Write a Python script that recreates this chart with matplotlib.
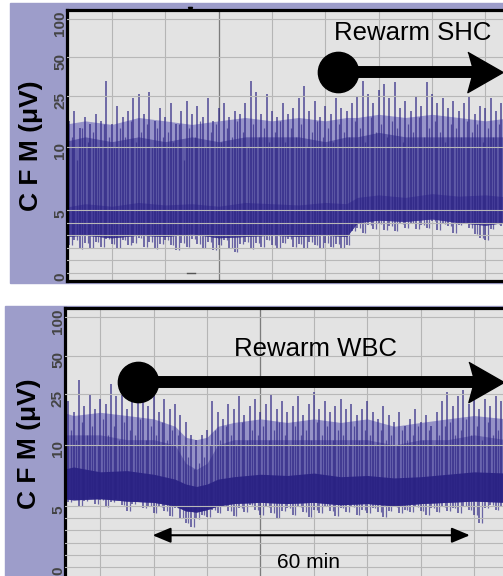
import numpy as np
import matplotlib
matplotlib.use("Agg")
import matplotlib.pyplot as plt
from matplotlib.patches import Rectangle
from matplotlib.transforms import ScaledTranslation, blended_transform_factory

plt.rcParams['font.family'] = ['Liberation Sans', 'DejaVu Sans']

# ---- upper panel: rewarm SHC, one peak / floor per minute (t = -8 .. 73 min)
shc_t = np.arange(-8, 74)
shc_peak = [16, 19, 14, 17, 15, 18, 16, 33,
            15, 21, 17, 19, 24, 26, 18, 27, 16, 20,
            17, 22, 15, 19, 23, 18, 21, 17, 24, 16,
            20, 22, 17, 19, 18, 22, 33, 27, 18, 26,
            19, 17, 22, 18, 20, 24, 30, 19, 23, 17,
            21, 18, 24, 20, 19, 22, 25, 33, 26, 22,
            28, 31, 24, 32, 20, 23, 19, 25, 21, 32,
            26, 22, 24, 20, 23, 19, 22, 25, 18, 21,
            20, 24, 19, 22]
# shorter strokes between the minute peaks
shc_sub = [12, 9, 14, 11, 13, 10, 15, 12,
           10, 14, 12, 16, 11, 13, 15, 10, 14, 12,
           13, 11, 15, 9, 14, 12, 16, 10, 13, 15,
           11, 14, 12, 16, 13, 10, 15, 12, 14, 11,
           13, 16, 11, 14, 12, 15, 10, 13, 16, 12,
           14, 11, 15, 13, 12, 16, 14, 11, 17, 13,
           15, 12, 16, 14, 11, 15, 13, 17, 12, 14,
           16, 13, 11, 15, 14, 12, 16, 13, 15, 11,
           14, 12, 15, 13]
shc_floor = [2.2, 2.6, 1.9, 2.4, 2.0, 2.5, 2.1, 2.7,
             2.3, 2.0, 2.6, 2.2, 2.4, 2.8, 2.1, 2.5, 1.9, 2.3,
             2.6, 2.2, 1.8, 2.4, 2.1, 2.7, 2.3, 2.0, 2.5, 1.8,
             2.2, 2.6, 2.0, 1.7, 2.3, 2.5, 1.9, 2.4, 2.1, 2.6,
             2.2, 2.0, 2.4, 2.7, 2.1, 2.3, 2.0, 2.5, 2.2, 2.0,
             2.4, 2.1, 2.3, 2.0, 2.2, 3.3, 3.6, 3.2, 3.8, 3.5,
             3.9, 3.4, 3.7, 3.3, 3.9, 3.6, 4.0, 3.5, 3.8, 3.6,
             4.1, 3.4, 3.9, 3.7, 3.2, 3.8, 4.0, 3.6, 3.1, 2.8,
             2.6, 3.5, 3.9, 3.7]
# band edges of the dense trace (coarse)
shc_band_t = [-9, -5, 0, 5, 10, 15, 20, 25, 30, 35, 40, 44, 46, 50, 55, 60, 65, 70, 75]
shc_haze = [15, 16, 15, 17, 16, 15, 16, 17, 16, 17, 16, 17, 17, 18, 17, 18, 17, 16, 17]
shc_mid = [11, 12, 11, 12, 11, 12, 11, 12, 12, 12, 11, 12, 12, 13, 12, 12, 12, 12, 12]
shc_core_hi = [5.2, 5.5, 5.3, 5.6, 5.4, 5.5, 5.3, 5.6, 5.5, 5.4, 5.6, 5.5, 6.0, 6.2, 6.0, 6.3, 6.1, 6.2, 6.0]
shc_core_lo = [2.9, 3.0, 2.8, 3.0, 2.9, 3.1, 2.8, 2.9, 3.0, 2.9, 3.0, 2.9, 4.0, 4.2, 4.1, 4.3, 4.0, 3.8, 4.1]

# ---- lower panel: rewarm WBC (t = -6 .. 75 min)
wbc_t = np.arange(-6, 76)
wbc_peak = [22, 18, 32, 20, 25, 19,
            23, 21, 30, 24, 27, 19, 26, 22, 24, 20,
            28, 18, 23, 19, 21, 17, 15, 12, 11, 12,
            13, 22, 18, 16, 21, 19, 24, 17, 20, 23,
            18, 21, 25, 19, 22, 18, 20, 24, 17, 21,
            26, 19, 22, 18, 20, 23, 19, 21, 17, 19,
            22, 18, 16, 20, 17, 15, 18, 14, 16, 19,
            15, 17, 14, 18, 22, 26, 20, 24, 27, 21,
            25, 19, 23, 20, 24, 22]
wbc_sub = [13, 11, 15, 12, 14, 10,
           16, 12, 14, 11, 15, 13, 12, 16, 11, 14,
           12, 15, 11, 13, 12, 10, 9, 8, 8.5, 9,
           10, 13, 11, 14, 12, 10, 15, 11, 13, 12,
           14, 11, 13, 15, 12, 10, 14, 12, 13, 11,
           15, 12, 14, 11, 13, 12, 10, 14, 11, 13,
           12, 10, 13, 11, 12, 10, 13, 11, 12, 14,
           11, 13, 10, 12, 14, 15, 12, 13, 16, 12,
           14, 11, 15, 12, 13, 14]
wbc_floor = [5.3, 5.6, 5.0, 5.4, 5.7, 5.2,
             5.5, 4.9, 5.3, 5.6, 5.1, 4.6, 5.2, 5.4, 4.8, 5.0,
             4.4, 4.9, 4.6, 4.2, 4.8, 4.0, 3.6, 3.3, 3.9, 4.3,
             4.1, 4.7, 4.4, 5.0, 4.6, 4.2, 4.8, 4.5, 5.1, 4.7,
             4.3, 4.9, 4.4, 4.0, 4.6, 4.8, 4.3, 4.9, 4.5, 4.1,
             4.7, 4.4, 5.0, 4.6, 4.2, 4.8, 4.5, 4.9, 4.3, 4.7,
             4.4, 4.8, 4.5, 4.1, 4.6, 4.9, 4.4, 4.7, 4.5, 4.9,
             4.6, 4.3, 4.8, 4.5, 4.9, 4.6, 4.8, 4.4, 5.0, 4.7,
             4.3, 3.6, 4.8, 5.1, 4.7, 5.0]
wbc_band_t = [-7, -5, 0, 5, 10, 14, 16, 18, 20, 22, 25, 30, 35, 40, 45, 50, 55, 60, 65, 70, 76]
wbc_haze = [18, 17, 18, 17, 16, 14, 11.5, 11, 11.5, 14, 15, 16, 15, 16, 15, 16, 14, 15, 16, 17, 16]
wbc_mid = [12, 12, 12, 11, 11, 10, 8.5, 8, 8.5, 10, 11, 11, 11, 11, 11, 11, 10, 11, 11, 12, 11]
wbc_core_hi = [8.0, 8.2, 7.8, 7.9, 7.6, 7.2, 6.8, 6.6, 6.8, 7.2, 7.4, 7.6, 7.5, 7.7, 7.4, 7.5, 7.3, 7.4, 7.6, 7.8, 7.7]
wbc_core_lo = [5.6, 5.5, 5.6, 5.4, 5.3, 5.0, 4.6, 4.5, 4.7, 5.0, 5.2, 5.3, 5.2, 5.3, 5.1, 5.2, 5.0, 5.2, 5.3, 5.4, 5.3]

y_ticks = [0, 5, 10, 25, 50, 100]
y_grid = [0, 1, 2, 3, 4, 5, 10, 25, 50, 100]
x_grid = [0, 10, 20, 30, 40, 50, 60, 70]

LAVENDER = "#9d9dca"
TRACE = "#2a2282"
W, H = 503, 576


def cfm_scale(lin):
    # linear 0-10, log 10-100
    def fwd(v):
        v = np.asarray(v, dtype=float)
        return np.where(v <= 10, v / 10 * lin, lin + np.log10(np.maximum(v, 1e-6) / 10))

    def inv(u):
        u = np.asarray(u, dtype=float)
        return np.where(u <= lin, u / lin * 10, 10 * 10 ** (u - lin))
    return fwd, inv


def px_box(left, top, right, bottom):
    return [left / W, 1 - bottom / H, (right - left) / W, (bottom - top) / H]


def draw_panel(ax, t, peak, sub, floor, band_t, haze, mid, core_hi, core_lo,
               lin, xlim, ylim, dark_x, colors):
    ax.set_yscale("function", functions=cfm_scale(lin))
    ax.set_xlim(*xlim)
    ax.set_ylim(*ylim)
    ax.set_facecolor("#e3e3e3")

    # vertical grid sits behind the trace
    for x in x_grid:
        ax.axvline(x, color="#b5b5b5", lw=0.8, zorder=0.5)
    ax.axvline(dark_x, color="#7c7c7c", lw=0.9, zorder=0.6)

    c_haze, c_mid, c_core = colors
    ax.fill_between(band_t, core_lo, haze, color=c_haze, lw=0, zorder=1)
    ax.fill_between(band_t, core_lo, mid, color=c_mid, lw=0, zorder=1.1)
    ax.fill_between(band_t, core_lo, core_hi, color=c_core, lw=0, zorder=1.2)

    ax.vlines(t, floor, peak, color=TRACE, lw=1.1, alpha=0.8, zorder=1.5)
    ax.vlines(t + 0.5, floor, sub, color=TRACE, lw=0.9, alpha=0.65, zorder=1.5)

    ax.set_yticks(y_grid)
    ax.set_yticklabels([])
    ax.set_xticks([])
    ax.tick_params(length=0)
    ax.set_axisbelow(False)
    ax.grid(True, axis="y", color="#b8b8b8", lw=0.8, zorder=2)

    for side in ["left", "top", "bottom"]:
        ax.spines[side].set_linewidth(2.3)
        ax.spines[side].set_color("black")
    ax.spines["right"].set_visible(False)

    tr = blended_transform_factory(ax.transAxes, ax.transData)
    off = ScaledTranslation(0, -4 / 100, ax.figure.dpi_scale_trans)
    for v in y_ticks:
        ax.text(-0.016, v, str(v), transform=tr + off, rotation=90,
                ha="center", va="center", fontsize=11, fontweight="bold",
                color="#444444")
    ax.text(-0.083, 0.5, "C F M (μV)", transform=ax.transAxes, rotation=90,
            ha="center", va="center", fontsize=19, fontweight="bold", color="black")


def rewarm_arrow(ax, t0, tip, v):
    bbox = ax.get_window_extent()
    x0, x1 = ax.get_xlim()
    ppm = bbox.width / (x1 - x0)
    head_c = tip - 17.5 / ppm
    ax.plot([t0, head_c], [v, v], color="black", lw=8.6, solid_capstyle="butt", zorder=6)
    ax.plot(t0, v, marker="o", ms=29, color="black", mec="black", zorder=7)
    head = [(-0.875, 1), (0.875, 0), (-0.875, -1), (-0.6, 0)]
    ax.plot(head_c, v, marker=head, ms=29, color="black", mec="black", zorder=7)


fig = plt.figure(figsize=(W / 100, H / 100), dpi=100)
fig.patches.append(Rectangle((10 / W, 1 - 283 / H), 1, 280 / H, transform=fig.transFigure,
                             color=LAVENDER, zorder=-10))
fig.patches.append(Rectangle((5 / W, 0), 1, (576 - 306) / H, transform=fig.transFigure,
                             color=LAVENDER, zorder=-10))

ax1 = fig.add_axes(px_box(67, 10, 503, 281))
draw_panel(ax1, shc_t, shc_peak, shc_sub, shc_floor, shc_band_t, shc_haze, shc_mid,
           shc_core_hi, shc_core_lo, 0.985, (-8.4, 73.3), (-0.63, 117.5), 20,
           ("#9794c9", "#5f5aa7", "#463e99"))
ax1.plot(14.6, 119, marker="v", ms=3, color="black", clip_on=False, zorder=8)
ax1.plot([14.0, 15.6], [0, 0], color="#555555", lw=1, zorder=3)
rewarm_arrow(ax1, 42.4, 73.2, 38.5)
ax1.text(56.3, 68, "Rewarm SHC", ha="center", va="baseline", fontsize=18.5, zorder=8)

ax2 = fig.add_axes(px_box(65, 308, 503, 580))
draw_panel(ax2, wbc_t, wbc_peak, wbc_sub, wbc_floor, wbc_band_t, wbc_haze, wbc_mid,
           wbc_core_hi, wbc_core_lo, 0.953, (-6.6, 75.4), (-1.07, 117.6), 30,
           ("#9592c7", "#6a65ae", "#2f2788"))
rewarm_arrow(ax2, 7.1, 75.4, 31)
ax2.text(40.3, 49.5, "Rewarm WBC", ha="center", va="baseline", fontsize=18.5, zorder=8)
ax2.annotate("", xy=(69.2, 2.6), xytext=(9.8, 2.6),
             arrowprops=dict(arrowstyle="<|-|>,head_length=0.55,head_width=0.23",
                             mutation_scale=20, lw=1.5, color="black",
                             shrinkA=0, shrinkB=0), zorder=8)
ax2.text(39, 0.4, "60 min", ha="center", va="center", fontsize=15, zorder=8)

fig.savefig("out.png", dpi=100)
